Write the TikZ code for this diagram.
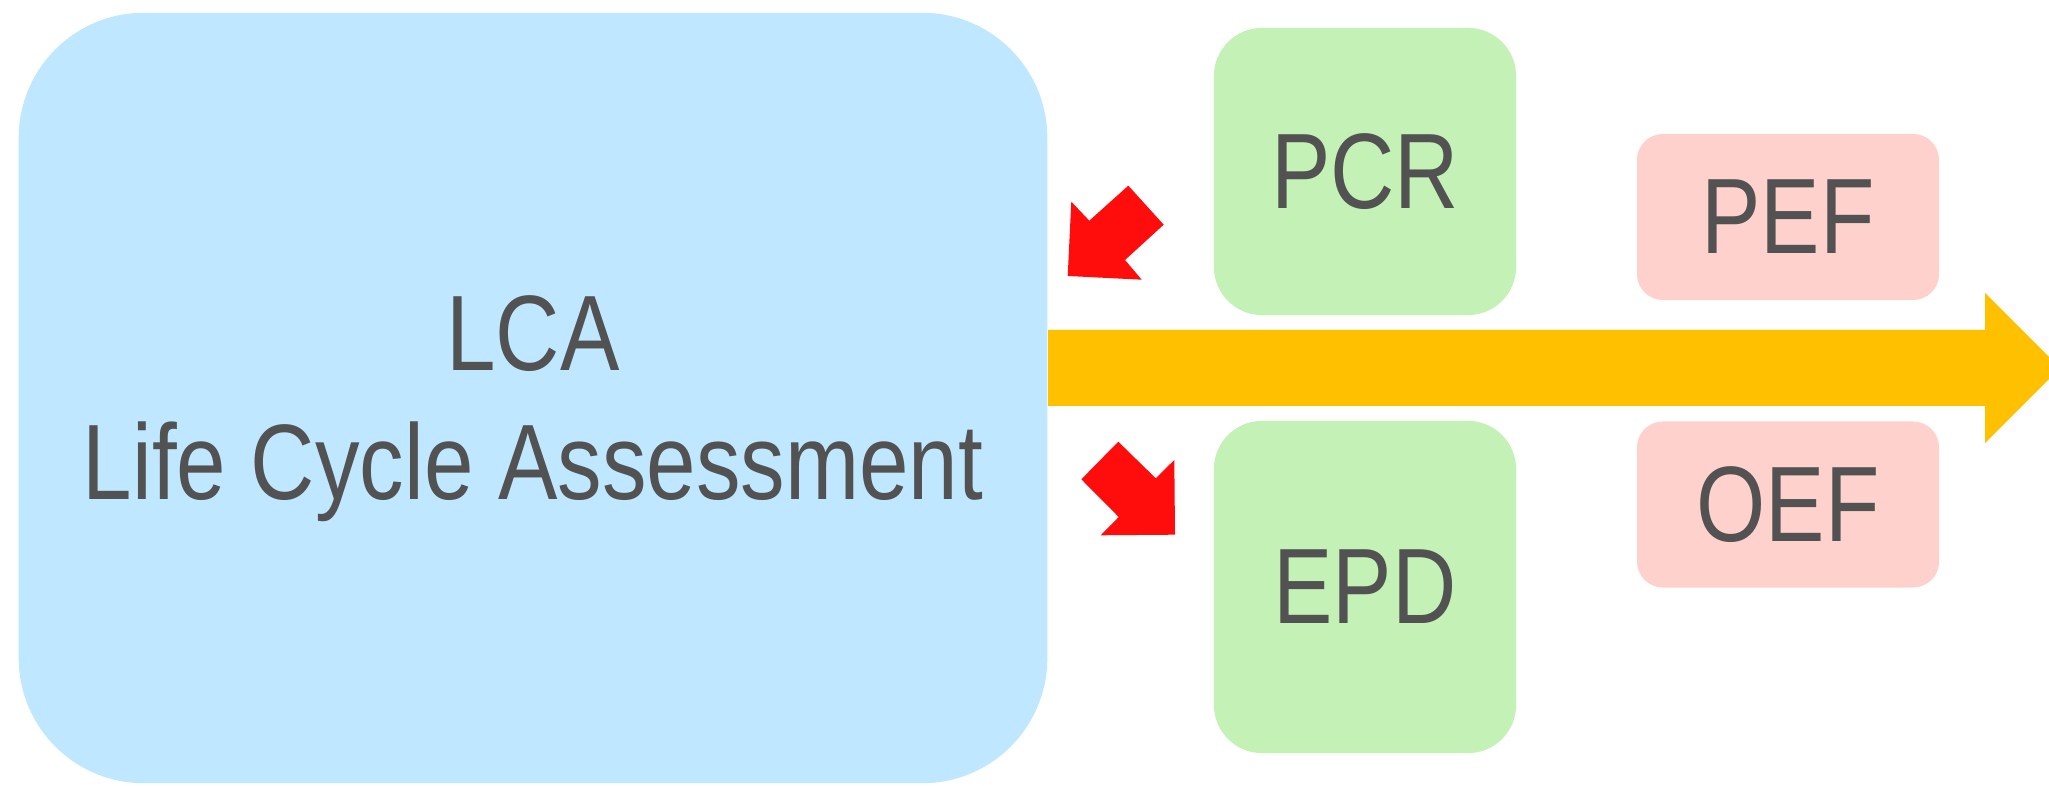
\documentclass[tikz,border=0pt]{standalone}
\usepackage{fontspec}
\newfontfamily\diagfont[FakeStretch=0.83]{Liberation Sans}
\newcommand\tilefont{\diagfont\fontsize{30.5}{36.7}\selectfont}
\definecolor{lcablue}{HTML}{BFE7FF}
\definecolor{rulegreen}{HTML}{C4F1B6}
\definecolor{footpink}{HTML}{FFD1CC}
\definecolor{flowyellow}{HTML}{FFC000}
\definecolor{pointred}{HTML}{FF0D0D}
\definecolor{labelgray}{HTML}{525252}

\begin{document}
\begin{tikzpicture}[x=0.01cm,y=-0.01cm,
  tile/.style={inner sep=0pt, text=labelgray, font=\tilefont, align=center},
  bigtile/.style={tile, fill=lcablue, rounded corners=1.25cm, minimum width=10.28cm, minimum height=7.70cm},
  ruletile/.style={tile, fill=rulegreen, rounded corners=0.48cm, minimum width=3.02cm},
  foottile/.style={tile, fill=footpink, rounded corners=0.26cm, minimum width=3.02cm, minimum height=1.66cm},
  flowarrow/.style={fill=flowyellow},
  pointer/.style={fill=pointred}]
\useasboundingbox (0,0) rectangle (2049,786);
\clip (0,0) rectangle (2049,786);

\node[bigtile, text depth=-0.08cm] (lca) at (533,398) {LCA\\Life Cycle Assessment};
\node[ruletile, minimum height=2.87cm] (pcr) at (1365,171.5) {PCR};
\node[ruletile, minimum height=3.32cm] (epd) at (1365,587) {EPD};
\node[foottile] (pef) at (1788,217) {PEF};
\node[foottile] (oef) at (1788,504.5) {OEF};

\fill[flowarrow] (lca.east |- 0,330) -- (1985,330) -- (1985,293) -- (2060,368)
  -- (1985,443) -- (1985,406) -- (lca.east |- 0,406) -- cycle;

\fill[pointer] (1128.3,185.7) -- (1163.7,224.7) -- (1125,260) -- (1141.7,279.7)
  -- (1067.7,276) -- (1071.3,201.7) -- (1089.3,220.7) -- cycle;
\fill[pointer] (1118.3,441.7) -- (1155.7,478.3) -- (1174.3,460) -- (1175,534.7)
  -- (1100.7,535.3) -- (1118.7,517) -- (1081.3,479.3) -- cycle;
\end{tikzpicture}
\end{document}
